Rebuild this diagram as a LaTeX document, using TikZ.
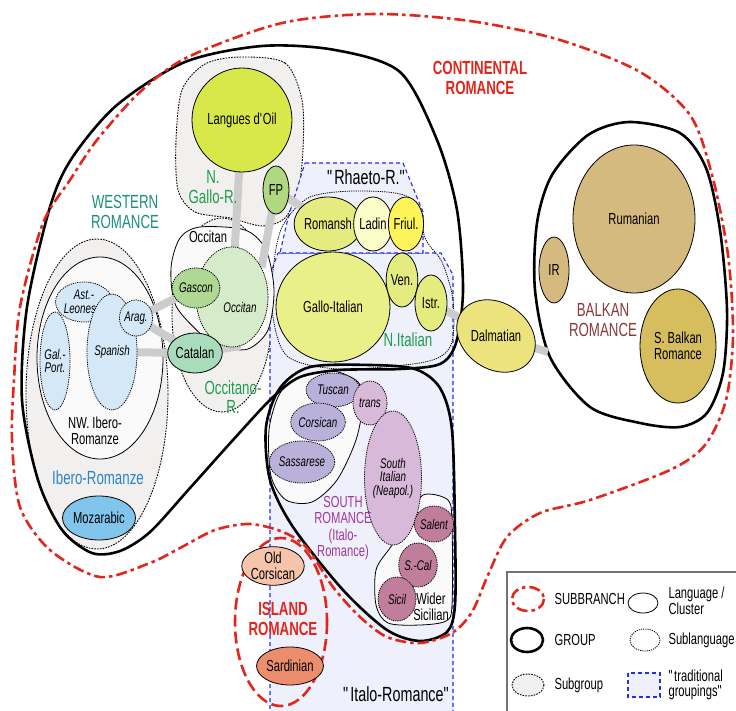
\documentclass[tikz,border=0pt]{standalone}
\usepackage{fontspec}
\setmainfont{Liberation Sans}[FakeStretch=0.7]
\usetikzlibrary{shapes.geometric}

\definecolor{subred}{HTML}{E3261B}
\definecolor{westc}{HTML}{1A9080}
\definecolor{greenc}{HTML}{1E9E4A}
\definecolor{iberoc}{HTML}{2A85C8}
\definecolor{balkc}{HTML}{8B3A3A}
\definecolor{southc}{HTML}{A4359E}
\definecolor{subgrpc}{HTML}{F2F0EF}
\definecolor{clusc}{HTML}{FAFAFA}
\definecolor{tradblue}{HTML}{2B2BE8}
\definecolor{tradc}{HTML}{EEF0FB}
\definecolor{linkc}{HTML}{CCCCCC}
\definecolor{oilc}{HTML}{D8E84A}
\definecolor{fpc}{HTML}{B0D880}
\definecolor{occc}{HTML}{D6EBC9}
\definecolor{gasc}{HTML}{AFD894}
\definecolor{catc}{HTML}{A9DCBD}
\definecolor{ibc}{HTML}{D4E8F8}
\definecolor{mozc}{HTML}{82C5EC}
\definecolor{romc}{HTML}{E4EC80}
\definecolor{ladc}{HTML}{FCFCC8}
\definecolor{fric}{HTML}{FCF458}
\definecolor{galc}{HTML}{EAF088}
\definecolor{dalc}{HTML}{ECE27E}
\definecolor{rumc}{HTML}{D4BA7E}
\definecolor{sbrc}{HTML}{D6BD5E}
\definecolor{tusc}{HTML}{B9B1D9}
\definecolor{tranc}{HTML}{D8B9D9}
\definecolor{salc}{HTML}{C07E9C}
\definecolor{ocorc}{HTML}{F6C4AA}
\definecolor{sardc}{HTML}{EC8E6E}

\newcommand\langfont{\fontsize{16}{15.5}\selectfont}
\newcommand\subfont{\fontsize{14}{13.5}\selectfont}
\newcommand\grpfont{\fontsize{19}{19.5}\selectfont}
\newcommand\tradfont{\fontsize{20.5}{20.5}\selectfont}

\pgfdeclarelayer{back}
\pgfdeclarelayer{links}
\pgfsetlayers{back,links,main}

\begin{document}
\begin{tikzpicture}[x=1pt, y=-1pt]

  \tikzset{
    sz/.style 2 args = {minimum width=#1pt, minimum height=#2pt},
    lang/.style = {ellipse, draw, line width=0.8pt, inner sep=0pt,
      align=center, font=\langfont},
    sublang/.style = {lang, dash pattern=on 1.2pt off 1pt,
      font=\subfont\itshape},
    link/.style = {draw=linkc, line width=8pt},
    subbr/.style = {draw=subred, line width=2.6pt,
      dash pattern=on 11pt off 4pt on 3.5pt off 4pt},
    island/.style = {draw=subred, line width=2.6pt,
      dash pattern=on 12pt off 5pt},
    grp/.style = {draw, line width=2.6pt},
    subgrp/.style = {draw, fill=subgrpc, line width=0.9pt,
      dash pattern=on 1.6pt off 1.2pt},
    subline/.style = {draw, line width=0.8pt, dash pattern=on 1.2pt off 1pt},
    clus/.style = {draw, fill=clusc, line width=0.8pt},
    trad/.style = {draw=tradblue, fill=tradc, line width=1.1pt,
      dash pattern=on 4pt off 3pt},
    glabel/.style = {align=center, font=\grpfont},
    legtext/.style = {anchor=west, align=left, font=\langfont}
  }

  \useasboundingbox (0,0) rectangle (736,711);

  \begin{pgfonlayer}{back}
    \fill[white] (0,0) rectangle (736,711);
    \draw[subgrp] (97,394) ellipse [x radius=71, y radius=155];
    \draw[subgrp] (222,315) ellipse [x radius=50, y radius=97];
    \draw[subgrp] plot[smooth cycle] coordinates {(240,57) (285,63) (302,100)
      (303,150) (298,190) (285,218) (262,226) (230,218) (195,212) (178,190)
      (176,140) (182,90) (205,64)};
    \draw[trad] (278,253) -- (441,253) -- (453,275) -- (453,716) -- (270,716)
      -- (270,275) -- cycle;
    \draw[trad] (305,163) -- (403,163) -- (423,212) -- (423,253) -- (280,253)
      -- (288,218) -- cycle;
    \draw[subline] plot[smooth cycle] coordinates {(283,225) (310,197)
      (360,191) (410,198) (426,240) (442,262) (453,300) (451,345) (425,362)
      (340,369) (287,356) (272,310) (274,262)};
    \draw[clus] (100,358) ellipse [x radius=63, y radius=101];
    \draw[clus] plot[smooth cycle] coordinates {(200,227) (245,230) (266,250)
      (274,290) (268,330) (248,349) (220,347) (205,338) (176,306) (171,268)
      (180,238)};
    \draw[clus] plot[smooth cycle] coordinates {(296,379) (332,371) (358,382)
      (363,402) (356,440) (337,480) (312,502) (286,500) (271,476) (269,430)
      (279,395)};
    \draw[clus] plot[smooth cycle] coordinates {(423,495) (448,500) (452,525)
      (452,605) (446,621) (420,625) (388,623) (376,605) (376,570) (390,548)
      (410,520)};
    \draw[grp] plot[smooth cycle] coordinates {(262,46) (335,50) (400,72)
      (437,140) (457,210) (463,290) (456,343) (440,364) (400,369) (340,370)
      (300,377) (272,398) (233,440) (190,488) (150,532) (120,551) (92,553)
      (62,530) (38,480) (22,400) (27,307) (50,207) (72,158) (117,105)
      (185,62)};
    \draw[grp] plot[smooth cycle] coordinates {(310,367) (370,365) (415,369)
      (440,388) (452,430) (455,530) (455,605) (447,632) (420,641) (387,630)
      (343,590) (293,527) (270,480) (266,427) (280,388)};
    \draw[grp] plot[smooth cycle] coordinates {(629,122) (680,133) (706,168)
      (720,230) (727,310) (723,373) (707,413) (680,427) (640,423) (590,407)
      (550,357) (535,290) (537,223) (552,175) (588,135)};
    \draw[subbr] plot[smooth cycle] coordinates {(375,14) (470,21) (560,40)
      (640,72) (690,115) (712,175) (728,255) (733,335) (726,400) (705,445)
      (670,470) (590,500) (540,513) (507,537) (488,575) (472,612) (452,633)
      (420,643) (387,637) (360,617) (333,587) (307,548) (283,532) (250,524)
      (215,530) (180,548) (150,563) (100,577) (50,550) (20,507) (12,440)
      (14,380) (20,307) (43,223) (70,180) (97,140) (140,92) (188,57)
      (282,23)};
    \draw[island] (281,622) ellipse [x radius=46, y radius=84];
  \end{pgfonlayer}

  \node[sublang, fill=ibc, sz={48}{40}] (astl) at (84,302) {Ast.-\\Leonese.};
  \node[sublang, fill=ibc, sz={40}{116}] (spa) at (112,352) {Spanish};
  \node[sublang, fill=ibc, sz={26}{98}] (galp) at (55,361) {Gal.-\\Port.};
  \node[sublang, fill=ibc, sz={28}{36}] (arag) at (136,318) {Arag.};
  \node[lang, fill=mozc, sz={58}{44}] (moz) at (99,518) {Mozarabic};

  \node[sublang, fill=occc, sz={72}{100}] (occ) at (232,297) {};
  \node[font=\subfont\itshape] (occt) at (240,307) {Occitan};
  \node[sublang, fill=gasc, sz={46}{40}] (gasc) at (196,288) {Gascon};
  \node[lang, fill=catc, sz={44}{40}] (cat) at (195,353) {Catalan};

  \node[lang, fill=oilc, sz={100}{104}] (oil) at (242,120) {Langues d\textquotesingle Oil};
  \node[lang, fill=fpc, sz={26}{48}] (fp) at (276,190) {FP};

  \node[lang, fill=romc, sz={54}{54}] (rom) at (328,224) {Romansh};
  \node[lang, fill=ladc, sz={30}{54}] (lad) at (373,224) {Ladin};
  \node[lang, fill=fric, sz={28}{54}] (fri) at (406,224) {Friul.};
  \node[lang, fill=galc, sz={114}{110}] (gal) at (333,307) {Gallo-Italian};
  \node[lang, fill=romc, sz={30}{54}] (ven) at (402,280) {Ven.};
  \node[lang, fill=romc, sz={32}{56}] (istr) at (431,303) {Istr.};

  \node[lang, fill=dalc, sz={84}{66}, rotate=-35] (dal) at (496,336) {};
  \node[font=\langfont] (dalt) at (dal.center) {Dalmatian};
  \coordinate (balk) at (548,352);

  \node[lang, fill=rumc, sz={122}{148}] (rum) at (634,219) {Rumanian};
  \node[lang, fill=rumc, sz={30}{66}] (ir) at (554,270) {IR};
  \node[lang, fill=sbrc, sz={76}{114}] (sbr) at (678,346) {S. Balkan\\Romance};

  \node[sublang, fill=tusc, sz={54}{34}] (tus) at (333,390) {Tuscan};
  \node[sublang, fill=tusc, sz={54}{38}] (cor) at (318,422) {Corsican};
  \node[sublang, fill=tusc, sz={54}{42}] (sas) at (302,462) {Sassarese};
  \node[sublang, fill=tranc, sz={34}{44}] (trans) at (370,403) {trans};
  \node[sublang, fill=tranc, sz={54}{134}] (sit) at (393,478) {South\\Italian\\(Neapol.)};
  \node[sublang, fill=salc, sz={36}{36}] (sal) at (434,524) {Salent};
  \node[sublang, fill=salc, sz={36}{44}] (scal) at (418,565) {S.-Cal};
  \node[sublang, fill=salc, sz={38}{44}] (sic) at (397,599) {Sicil};

  \node[lang, fill=ocorc, sz={58}{38}] (ocor) at (273,566) {Old\\Corsican};
  \node[lang, fill=sardc, sz={56}{38}] (sard) at (290,666) {Sardinian};

  \begin{pgfonlayer}{links}
    \draw[link] (oil.center) -- (occ.center);
    \draw[link] (fp.center) -- (occ.45);
    \draw[link] (fp.center) -- (rom.center);
    \draw[link] (arag.center) -- (gasc.center);
    \draw[link] (arag.center) -- (cat.center);
    \draw[link] (spa.center) -- (cat.center);
    \draw[link] (cat.center) -- (occ.-80);
    \draw[link] (istr.center) -- (dal.center);
    \draw[link] (dal.center) -- (balk);
  \end{pgfonlayer}

  \node[glabel, text=westc] (westl) at (125,212) {WESTERN\\ROMANCE};
  \node[glabel, text=greenc] (ngall) at (213,187) {N.\\Gallo-R.};
  \node[glabel, text=greenc] (occrl) at (233,397) {Occitano-\\R.};
  \node[glabel, text=iberoc] (iberl) at (98,478) {Ibero-Romanze};
  \node[align=center, font=\langfont] (nwibl) at (95,431) {NW. Ibero-\\Romanze};
  \node[font=\langfont] (occl) at (208,237) {Occitan};
  \node[font=\tradfont] (rhael) at (367,177) {\textquotedbl Rhaeto-R.\textquotedbl};
  \node[glabel, text=greenc] (nitl) at (408,340) {N.Italian};
  \node[glabel, text=subred, font=\grpfont\bfseries] (contl) at (480,78) {CONTINENTAL\\ROMANCE};
  \node[glabel, text=balkc] (balkl) at (603,320) {BALKAN\\ROMANCE};
  \node[align=center, text=southc, font={\fontsize{16}{16.5}\selectfont}] (southl) at (343,528) {SOUTH\\ROMANCE\\(Italo-\\Romance)};
  \node[align=center, font=\langfont] (wsicl) at (431,607) {Wider\\Sicilian};
  \node[glabel, text=subred, font=\grpfont\bfseries] (islal) at (283,619) {ISLAND\\ROMANCE};
  \node[font=\tradfont] (itall) at (397,694) {\textquotedbl Italo-Romance\textquotedbl};

  \draw[draw=black!55, fill=white, line width=1.2pt] (507,572) rectangle (745,720);
  \draw[subbr] (528,599) ellipse [x radius=16, y radius=12];
  \draw[line width=0.8pt] (643,603) ellipse [x radius=15, y radius=10];
  \draw[grp] (527,640) ellipse [x radius=16, y radius=12];
  \draw[subline] (645,640) ellipse [x radius=15, y radius=11];
  \draw[subgrp] (528,685) ellipse [x radius=16, y radius=11];
  \draw[trad] (628,673) rectangle (660,697);
  \node[legtext] (lsubbr) at (551,599) {SUBBRANCH};
  \node[legtext] (llang) at (665,601) {Language /\\Cluster};
  \node[legtext] (lgrp) at (551,640) {GROUP};
  \node[legtext] (lsubl) at (665,640) {Sublanguage};
  \node[legtext] (lsubg) at (551,685) {Subgroup};
  \node[legtext] (ltrad) at (665,685) {\textquotedbl traditional\\groupings\textquotedbl};

\end{tikzpicture}
\end{document}
